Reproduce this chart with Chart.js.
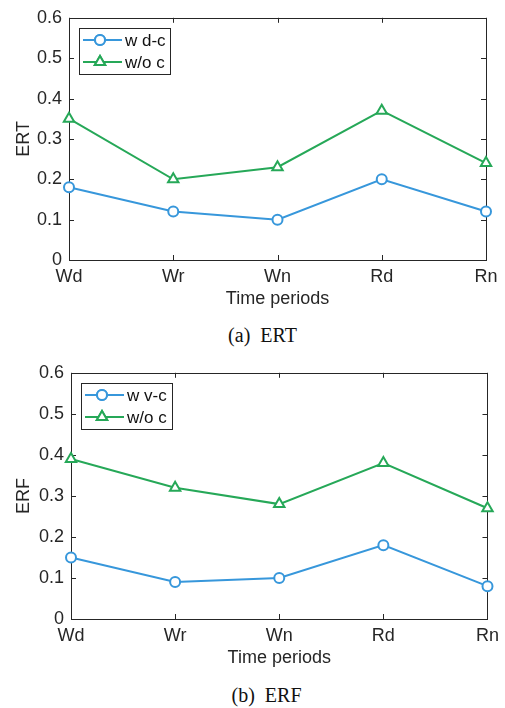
<!DOCTYPE html>
<html>
<head>
<meta charset="utf-8">
<script src="https://cdn.jsdelivr.net/npm/chart.js@4"></script>
<style>
  body { margin: 0; background: #fff; width: 505px; height: 708px; position: relative; overflow: hidden; }
  .box { position: absolute; left: 0; width: 505px; }
  .cap { position: absolute; left: 0; width: 505px; text-align: center; font-family: "Liberation Serif", "Times New Roman", serif; font-size: 20px; color: #111; line-height: 24px; }
</style>
</head>
<body>
<div class="box" style="top:0;height:320px"><canvas id="graficoERT"></canvas></div>
<div class="cap" id="capA" style="top:323px;left:10px">(a)&nbsp;&nbsp;ERT</div>
<div class="box" style="top:355px;height:320px"><canvas id="graficoERF"></canvas></div>
<div class="cap" id="capB" style="top:683px;left:14px">(b)&nbsp;&nbsp;ERF</div>
<script>
// Dados
const periodos = ["Wd", "Wr", "Wn", "Rd", "Rn"];
const yTicks = [0, 0.1, 0.2, 0.3, 0.4, 0.5, 0.6];

const ertComD = [0.18, 0.12, 0.10, 0.20, 0.12];
const ertSemC = [0.35, 0.20, 0.23, 0.37, 0.24];
const erfComV = [0.15, 0.09, 0.10, 0.18, 0.08];
const erfSemC = [0.39, 0.32, 0.28, 0.38, 0.27];

const AZUL = "rgb(55,151,219)";
const VERDE = "rgb(38,168,88)";
const EIXO = "#262626";
const FONTE = "'Liberation Sans', Arial, Helvetica, sans-serif";

// Caixa à volta do gráfico, com marcas para dentro (estilo MATLAB)
const caixaPlugin = {
    id: "caixa",
    beforeDatasetsDraw(chart) {
        const ctx = chart.ctx;
        const a = chart.chartArea;
        const xs = chart.scales.x, ys = chart.scales.y;
        const L = 5;
        ctx.save();
        ctx.strokeStyle = EIXO;
        ctx.lineWidth = 1;
        ctx.beginPath();
        periodos.forEach((p, i) => {
            const x = Math.round(xs.getPixelForValue(i)) + 0.5;
            ctx.moveTo(x, a.bottom); ctx.lineTo(x, a.bottom - L);
            ctx.moveTo(x, a.top); ctx.lineTo(x, a.top + L);
        });
        yTicks.forEach(v => {
            const y = Math.round(ys.getPixelForValue(v)) + 0.5;
            ctx.moveTo(a.left, y); ctx.lineTo(a.left + L, y);
            ctx.moveTo(a.right, y); ctx.lineTo(a.right - L, y);
        });
        ctx.stroke();
        ctx.strokeRect(Math.round(a.left) + 0.5, Math.round(a.top) + 0.5,
                       Math.round(a.right - a.left), Math.round(a.bottom - a.top));
        ctx.restore();
    }
};

// Legenda desenhada à mão (linha + marcador)
const legendaPlugin = {
    id: "legenda",
    afterDraw(chart) {
        const ctx = chart.ctx;
        const a = chart.chartArea;
        const x0 = Math.round(a.left) + 10, y0 = Math.round(a.top) + 10;
        const w = 91, h = 46;
        ctx.save();
        ctx.fillStyle = "#fff";
        ctx.fillRect(x0, y0, w, h);
        ctx.strokeStyle = EIXO;
        ctx.lineWidth = 1;
        ctx.strokeRect(x0 + 0.5, y0 + 0.5, w, h);
        chart.data.datasets.forEach((ds, i) => {
            const y = y0 + 12 + i * 22;
            ctx.strokeStyle = ds.borderColor;
            ctx.lineWidth = 2;
            ctx.beginPath();
            ctx.moveTo(x0 + 4, y); ctx.lineTo(x0 + 43, y);
            ctx.stroke();
            Chart.helpers.drawPoint(ctx, {
                pointStyle: ds.pointStyle, radius: ds.pointRadius, rotation: 0, borderWidth: 2
            }, x0 + 21, y);
            ctx.fillStyle = "#fff";
            ctx.strokeStyle = ds.borderColor;
            ctx.lineWidth = 2;
            ctx.fill();
            ctx.stroke();
            ctx.fillStyle = "#111";
            ctx.font = "17px " + FONTE;
            ctx.textBaseline = "middle";
            ctx.fillText(ds.label, x0 + 46, y + 1);
        });
        ctx.restore();
    }
};

function serie(label, dados, cor, estilo, raio) {
    return {
        label: label,
        data: dados,
        borderColor: cor,
        backgroundColor: "#fff",
        borderWidth: 2,
        pointStyle: estilo,
        pointRadius: raio,
        pointBorderWidth: 2,
        pointBackgroundColor: "#fff",
        pointBorderColor: cor,
        tension: 0,
        clip: false
    };
}

function desenhar(id, tituloY, dsA, dsB, pad, larguraY) {
    new Chart(document.getElementById(id), {
        type: "line",
        data: { labels: periodos, datasets: [dsA, dsB] },
        options: {
            responsive: true,
            maintainAspectRatio: false,
            animation: false,
            events: [],
            layout: { padding: pad },
            plugins: { legend: { display: false }, tooltip: { enabled: false } },
            scales: {
                x: {
                    type: "category",
                    offset: false,
                    grid: { display: false, drawTicks: false },
                    border: { display: false },
                    ticks: { color: EIXO, font: { family: FONTE, size: 18 }, padding: 6, maxRotation: 0, autoSkip: false },
                    title: { display: true, text: "Time periods", color: EIXO, font: { family: FONTE, size: 18 }, padding: { top: 2, bottom: 4 } },
                    afterFit: s => { s.height = 54; }
                },
                y: {
                    min: 0, max: 0.6,
                    grid: { display: false, drawTicks: false },
                    border: { display: false },
                    ticks: {
                        stepSize: 0.1, color: EIXO, padding: 7,
                        font: { family: FONTE, size: 18 },
                        callback: v => v === 0 ? "0" : v.toFixed(1)
                    },
                    title: { display: true, text: tituloY, color: EIXO, font: { family: FONTE, size: 18 }, padding: { top: 4, bottom: 0 } },
                    afterFit: s => { s.width = larguraY; }
                }
            }
        },
        plugins: [caixaPlugin, legendaPlugin]
    });
}

desenhar("graficoERT", "ERT",
    serie("w d-c", ertComD, AZUL, "circle", 5),
    serie("w/o c", ertSemC, VERDE, "triangle", 6),
    { top: 13, left: 9, right: 19, bottom: 6 }, 60);

desenhar("graficoERF", "ERF",
    serie("w v-c", erfComV, AZUL, "circle", 5),
    serie("w/o c", erfSemC, VERDE, "triangle", 6),
    { top: 16, left: 9, right: 17, bottom: 2 }, 62);
</script>
</body>
</html>
